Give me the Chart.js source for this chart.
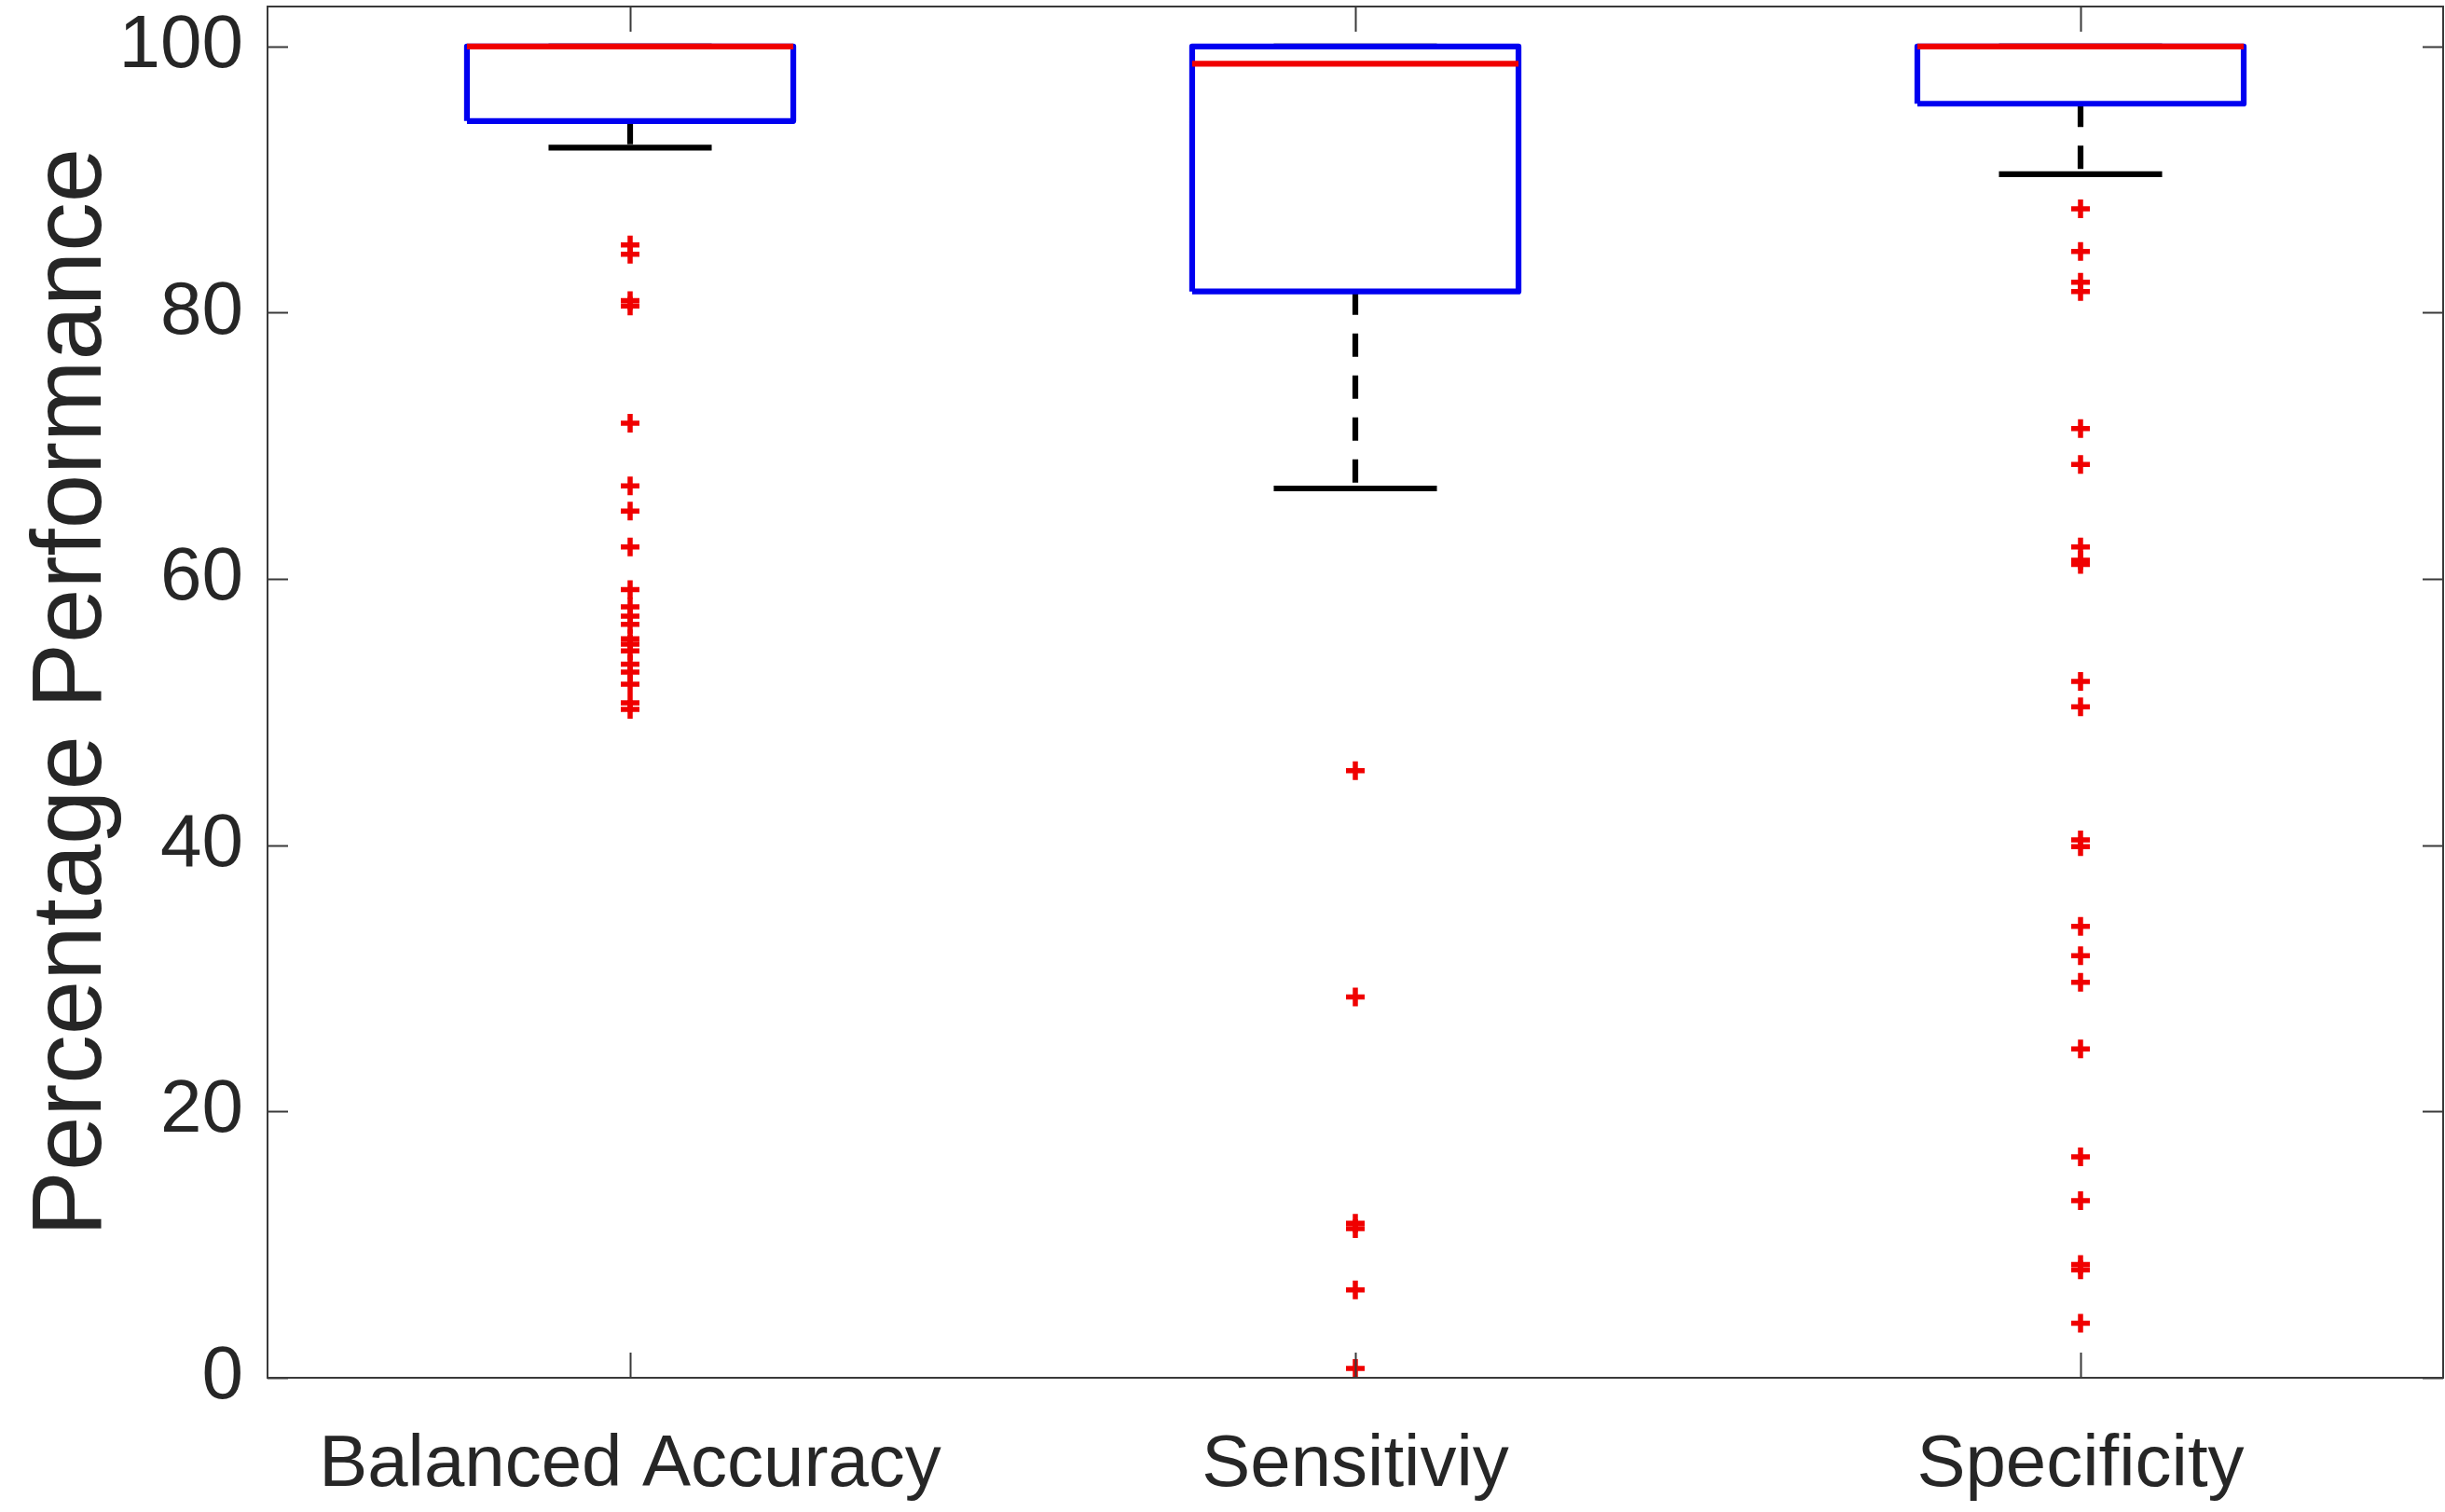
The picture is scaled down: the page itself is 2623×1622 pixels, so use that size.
<!DOCTYPE html>
<html>
<head>
<meta charset="utf-8">
<script src="https://cdn.jsdelivr.net/npm/chart.js@4/dist/chart.umd.min.js"></script>
<style>
  html, body { margin: 0; padding: 0; background: #ffffff; }
  #wrap { width: 2623px; height: 1622px; }
</style>
</head>
<body>
<div id="wrap"><canvas id="c" width="2623" height="1622"></canvas></div>
<script>
// ---- data ----
const categories = ['Balanced Accuracy', 'Sensitiviy', 'Specificity'];
const q1Values = [94.4, 81.6, 95.7];
const medianValues = [100, 98.7, 100];
const q3Values = [100, 100, 100];
const lowerWhiskers = [92.4, 66.8, 90.4];
const upperWhiskers = [100, 100, 100];
const outliersBalanced = [85.1, 84.4, 80.9, 80.5, 71.7, 67.0, 65.1, 62.4, 59.2, 57.9, 57.2, 56.6, 55.5, 55.1, 54.6, 53.6, 53.0, 52.1, 50.7, 50.2];
const outliersSensitivity = [45.6, 28.6, 11.6, 11.2, 6.6, 0.7];
const outliersSpecificity = [87.8, 84.6, 82.3, 81.6, 71.3, 68.6, 62.4, 61.4, 61.1, 52.3, 50.4, 40.4, 39.9, 33.9, 31.7, 29.7, 24.7, 16.6, 13.3, 8.5, 8.1, 4.1];
const yTickValues = [0, 20, 40, 60, 80, 100];
const yMin = 0, yMax = 103;

// ---- style constants ----
const BOX_HALF = 0.225;   // half box width in category units
const CAP_HALF = 0.1125;  // half whisker-cap width
const TEXT = '#262626';
const AXIS = '#3a3a3a';
const SANS = "'Liberation Sans', Arial, sans-serif";
const LW = 6.2;

// outlier markers must not enlarge the layout padding (MATLAB axes go edge to edge)
Chart.ScatterController.prototype.getMaxOverflow = function () { return 0; };

const allOutliers = [outliersBalanced, outliersSensitivity, outliersSpecificity];

// derived structures
const pos = categories.map((_, i) => i + 1);
function segs(fn) {
  const out = [];
  pos.forEach((p, i) => { out.push(...fn(p, i)); out.push({ x: p + 0.5, y: null }); });
  return out;
}
const boxData = segs((p, i) => [
  { x: p - BOX_HALF, y: q1Values[i] }, { x: p - BOX_HALF, y: q3Values[i] },
  { x: p + BOX_HALF, y: q3Values[i] }, { x: p + BOX_HALF, y: q1Values[i] },
  { x: p - BOX_HALF, y: q1Values[i] }
]);
const medianData = segs((p, i) => [{ x: p - BOX_HALF, y: medianValues[i] }, { x: p + BOX_HALF, y: medianValues[i] }]);
const lowerWhiskerData = segs((p, i) => [{ x: p, y: q1Values[i] }, { x: p, y: lowerWhiskers[i] }]);
const upperWhiskerData = segs((p, i) => [{ x: p, y: q3Values[i] }, { x: p, y: upperWhiskers[i] }]);
const lowerCapData = segs((p, i) => [{ x: p - CAP_HALF, y: lowerWhiskers[i] }, { x: p + CAP_HALF, y: lowerWhiskers[i] }]);
const upperCapData = segs((p, i) => [{ x: p - CAP_HALF, y: upperWhiskers[i] }, { x: p + CAP_HALF, y: upperWhiskers[i] }]);
const outlierData = [];
allOutliers.forEach((arr, i) => arr.forEach(v => outlierData.push({ x: pos[i], y: v })));

function lineDs(data, color, dash, order) {
  return {
    type: 'line', data, borderColor: color, borderWidth: LW, borderDash: dash,
    pointRadius: 0, spanGaps: false, fill: false, tension: 0, order,
    borderCapStyle: 'butt', borderJoinStyle: 'round', clip: false
  };
}

// axes frame with inward ticks (MATLAB style box)
const framePlugin = {
  id: 'frame',
  afterDatasetsDraw(chart) {
    const { ctx, chartArea: a, scales: { x, y } } = chart;
    ctx.save();
    ctx.strokeStyle = AXIS;
    ctx.lineWidth = 2;
    ctx.strokeRect(a.left, a.top, a.right - a.left, a.bottom - a.top);
    ctx.beginPath();
    y.ticks.forEach(t => {
      const py = Math.round(y.getPixelForValue(t.value)) + 0.5;
      ctx.moveTo(a.left, py); ctx.lineTo(a.left + 22, py);
      ctx.moveTo(a.right, py); ctx.lineTo(a.right - 22, py);
    });
    x.ticks.forEach(t => {
      const px = Math.round(x.getPixelForValue(t.value)) + 0.5;
      ctx.moveTo(px, a.bottom); ctx.lineTo(px, a.bottom - 27);
      ctx.moveTo(px, a.top); ctx.lineTo(px, a.top + 27);
    });
    ctx.stroke();
    ctx.restore();
  }
};

new Chart(document.getElementById('c'), {
  type: 'scatter',
  data: {
    datasets: [
      lineDs(lowerWhiskerData, '#000000', [25, 20], 6),
      lineDs(upperWhiskerData, '#000000', [25, 20], 6),
      lineDs(lowerCapData, '#000000', [], 5),
      lineDs(upperCapData, '#000000', [], 5),
      lineDs(boxData, '#0000f0', [], 3),
      lineDs(medianData, '#f00000', [], 2),
      {
        type: 'scatter', data: outlierData, pointStyle: 'cross', pointRadius: 10,
        borderColor: '#f00000', backgroundColor: '#f00000', pointBorderWidth: 5.5, borderWidth: 5.5,
        showLine: false, order: 1, clip: false
      }
    ]
  },
  options: {
    responsive: false,
    devicePixelRatio: 1,
    animation: false,
    events: [],
    layout: { padding: { top: 7, right: 2, left: 0, bottom: 0 } },
    plugins: { legend: { display: false }, tooltip: { enabled: false }, title: { display: false } },
    scales: {
      x: {
        type: 'linear', min: 0.5, max: 3.5, offset: false,
        grid: { display: false, drawTicks: false },
        border: { display: false },
        afterBuildTicks: s => { s.ticks = pos.map(v => ({ value: v })); },
        afterFit: s => { s.height = 1622 - 1478; s.paddingLeft = 0; s.paddingRight = 0; },
        ticks: {
          autoSkip: false, maxRotation: 0, includeBounds: false, padding: 48,
          color: TEXT, font: { family: SANS, size: 78 },
          callback: v => categories[Math.round(v) - 1] || ''
        }
      },
      y: {
        type: 'linear', min: yMin, max: yMax,
        grid: { display: false, drawTicks: false },
        border: { display: false },
        afterBuildTicks: s => { s.ticks = yTickValues.map(v => ({ value: v })); },
        afterFit: s => { s.width = 287; s.paddingTop = 0; s.paddingBottom = 0; },
        ticks: { includeBounds: false, padding: 26, color: TEXT, font: { family: SANS, size: 80 } },
        title: {
          display: true, text: 'Percentage Performance', color: TEXT,
          font: { family: SANS, size: 105 }, padding: { top: 16, bottom: 0 }
        }
      }
    }
  },
  plugins: [framePlugin]
});
</script>
</body>
</html>
